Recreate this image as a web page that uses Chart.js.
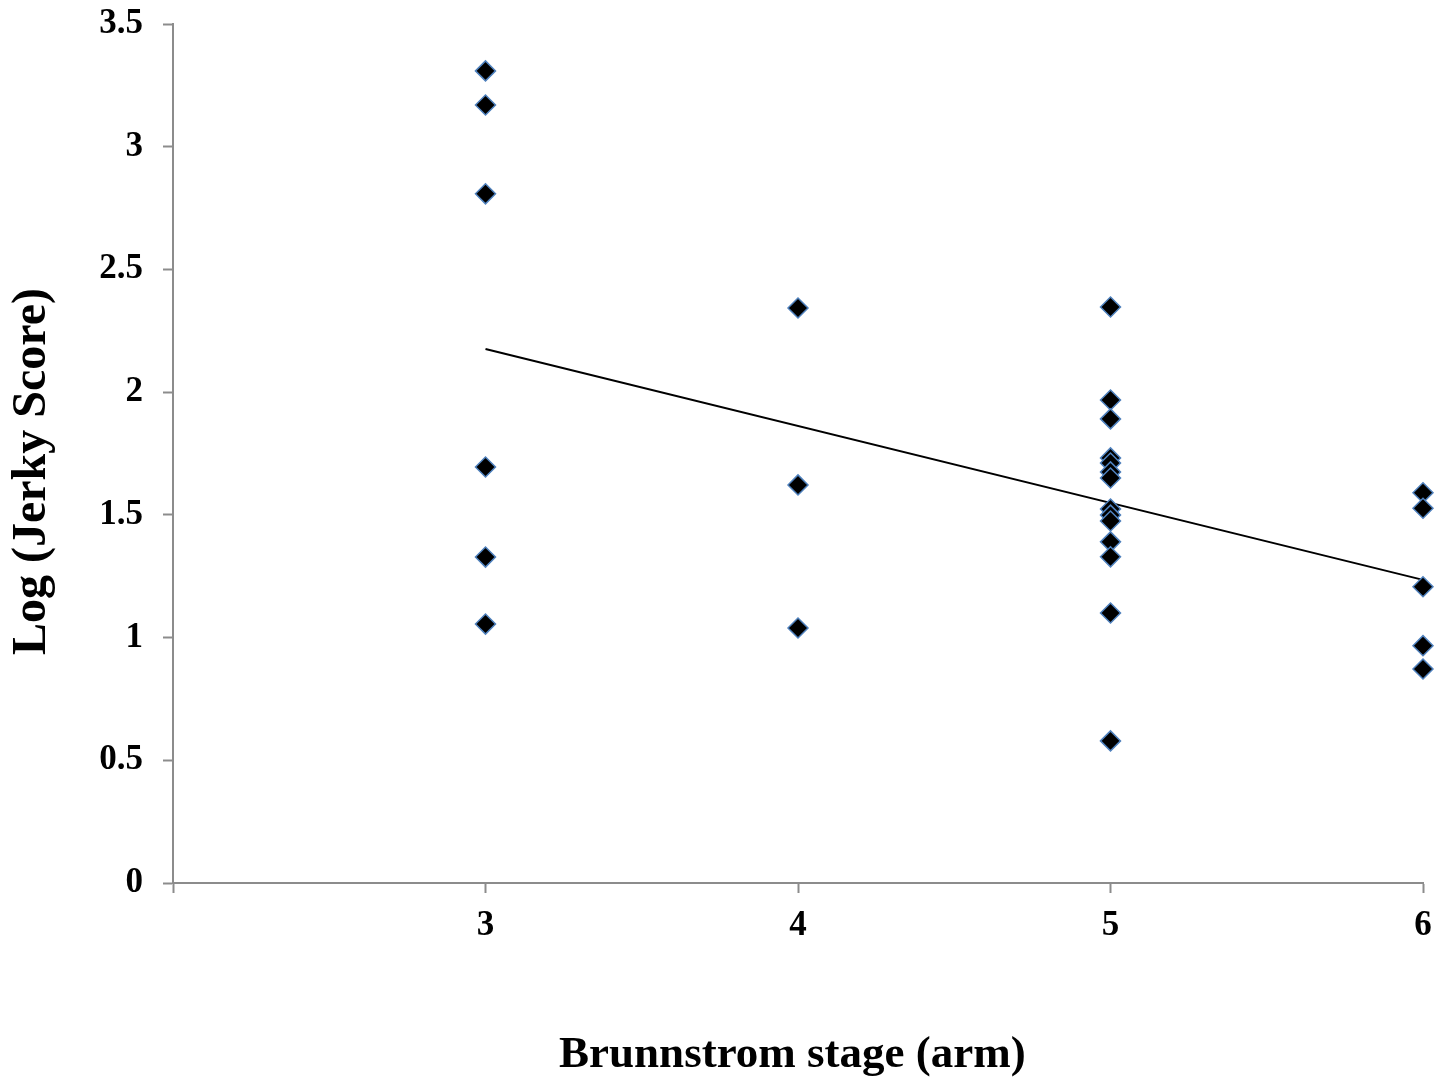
<!DOCTYPE html>
<html>
<head>
<meta charset="utf-8">
<script src="https://cdn.jsdelivr.net/npm/chart.js@4"></script>
<style>
html,body{margin:0;padding:0;background:#fff;}
#wrap{width:1448px;height:1078px;position:relative;}
</style>
</head>
<body>
<div id="wrap"><canvas id="c" width="1448" height="1078"></canvas></div>
<script>
const stageX = [3,3,3,3,3,3, 4,4,4, 5,5,5,5,5,5,5,5,5,5,5,5,5,5, 6,6,6,6,6];
const logJerky = [3.309,3.170,2.808,1.695,1.328,1.055,
  2.343,1.622,1.039,
  2.347,1.968,1.891,1.732,1.711,1.675,1.650,1.524,1.499,1.475,1.390,1.329,1.100,0.579,
  1.590,1.527,1.207,0.967,0.872];
const trendX = [3,6];
const trendY = [2.176,1.235];
const xTickLabels = {2:'',3:'3',4:'4',5:'5',6:'6'};
const yTickLabels = {0:'0',0.5:'0.5',1:'1',1.5:'1.5',2:'2',2.5:'2.5',3:'3',3.5:'3.5'};

const pts = stageX.map((x,i)=>({x:x,y:logJerky[i]}));
const trend = trendX.map((x,i)=>({x:x,y:trendY[i]}));
const serif = "'Liberation Serif','Times New Roman',serif";

new Chart(document.getElementById('c'),{
  type:'scatter',
  data:{datasets:[
    {type:'line',data:trend,borderColor:'#000',borderWidth:2,pointRadius:0,fill:false,order:1,clip:false},
    {data:pts,pointStyle:'rectRot',pointRadius:10,pointHoverRadius:10,backgroundColor:'#000',borderColor:'#4f81bd',borderWidth:1.5,order:0,clip:false}
  ]},
  options:{
    responsive:false,animation:false,
    layout:{padding:{top:24,right:25,left:0,bottom:0}},
    plugins:{legend:{display:false},tooltip:{enabled:false}},
    scales:{
      x:{type:'linear',min:2,max:6,
        afterFit:(s)=>{s.height=195;s.paddingLeft=0;s.paddingRight=0;},
        ticks:{stepSize:1,padding:12,color:'#000',font:{family:serif,size:35,weight:'bold'},
          callback:(v)=>xTickLabels[v]!==undefined?xTickLabels[v]:''},
        grid:{drawOnChartArea:false,drawTicks:true,tickLength:10,tickColor:'#8c8c8c',tickWidth:2},
        border:{color:'#8c8c8c',width:2},
        title:{display:true,text:'Brunnstrom stage (arm)\u00a0',color:'#000',font:{family:serif,size:45,weight:'bold',lineHeight:1},padding:{top:0,bottom:0}}
      },
      y:{type:'linear',min:0,max:3.5,
        afterFit:(s)=>{s.width=173;s.paddingTop=0;s.paddingBottom=0;},
        ticks:{stepSize:0.5,padding:20,color:'#000',font:{family:serif,size:35,weight:'bold'},
          callback:(v)=>yTickLabels[v]!==undefined?yTickLabels[v]:''},
        grid:{drawOnChartArea:false,drawTicks:true,tickLength:10,tickColor:'#8c8c8c',tickWidth:2},
        border:{color:'#8c8c8c',width:2},
        title:{display:true,text:'Log (Jerky Score)\u00a0\u00a0\u00a0',color:'#000',font:{family:serif,size:48,weight:'bold',lineHeight:1},padding:{top:9,bottom:0}}
      }
    }
  }
});
</script>
</body>
</html>
